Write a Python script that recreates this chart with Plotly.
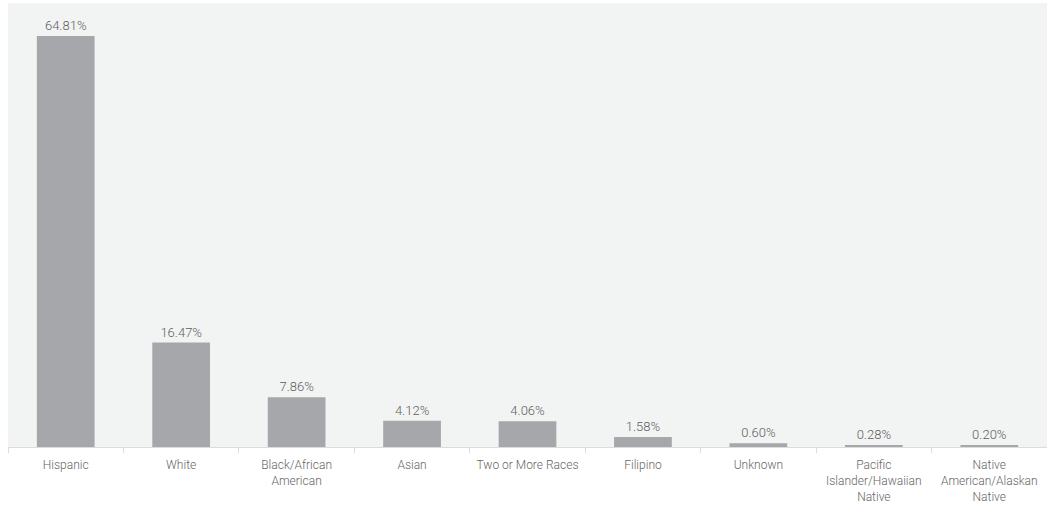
import plotly.graph_objects as go

categories = ["Hispanic", "White", "Black/African<br>American", "Asian", "Two or More Races",
              "Filipino", "Unknown", "Pacific<br>Islander/Hawaiian<br>Native",
              "Native<br>American/Alaskan<br>Native"]
values = [64.81, 16.47, 7.86, 4.12, 4.06, 1.58, 0.60, 0.28, 0.20]
labels = [f"{v:.2f}%" for v in values]

FONT = "Roboto, Arial, sans-serif"

fig = go.Figure(go.Bar(
    x=categories, y=values, text=labels, textposition="outside",
    marker=dict(color="#a6a7aa", line=dict(width=0)),
    width=0.5, cliponaxis=False,
    textfont=dict(size=13, color="#5e5e5e", family=FONT, weight=300),
))

fig.update_layout(
    width=1047, height=507,
    margin=dict(l=8, r=0, t=3, b=60, autoexpand=False),
    paper_bgcolor="white", plot_bgcolor="#f2f3f3",
    font=dict(family=FONT, size=12, color="#666666", weight=300),
    showlegend=False,
    bargap=0.5,
)
fig.update_xaxes(
    automargin=False,
    showline=True, linecolor="#dcdcdc", linewidth=1,
    ticks="outside", tickson="boundaries", ticklen=5, tickcolor="#dcdcdc",
    ticklabelstandoff=7,
    showgrid=False, tickfont=dict(size=12, color="#666666", family=FONT, weight=300),
)
fig.update_yaxes(range=[0, 70], visible=False, showgrid=False, zeroline=False, automargin=False)

fig.write_html(
    "out.html",
    config={"displayModeBar": False},
    post_script="document.body.style.margin='0';document.body.style.overflow='hidden';",
)
